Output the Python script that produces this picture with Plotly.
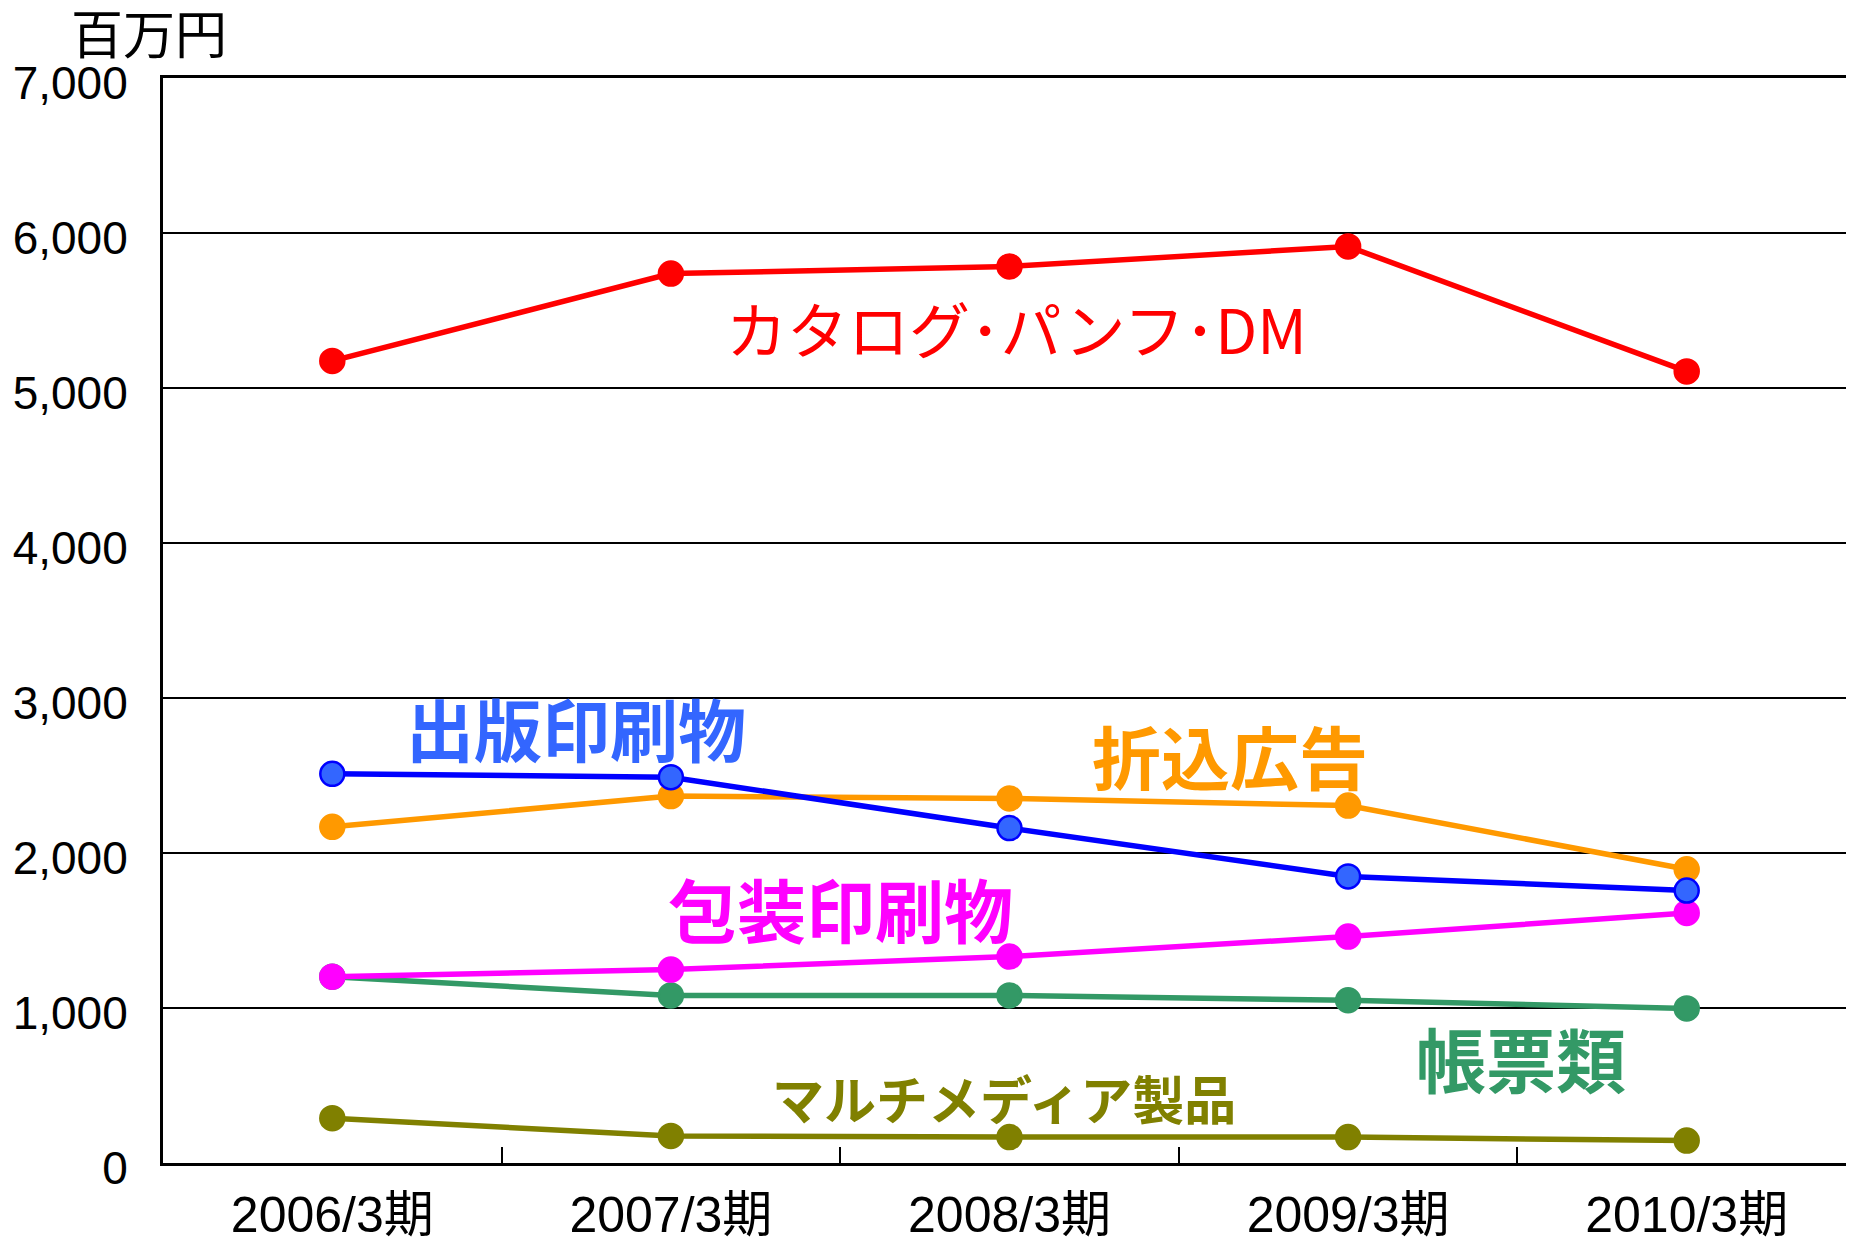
import plotly.graph_objects as go

categories = ["2006/3期", "2007/3期", "2008/3期", "2009/3期", "2010/3期"]
catalog = [5175, 5738, 5784, 5913, 5107]
publishing = [2511, 2489, 2161, 1849, 1758]
inserts = [2169, 2367, 2352, 2306, 1895]
packaging = [1202, 1248, 1332, 1461, 1613]
forms = [1202, 1081, 1081, 1050, 997]
multimedia = [289, 175, 167, 167, 145]
y_ticks = [0, 1000, 2000, 3000, 4000, 5000, 6000, 7000]
y_tick_text = ["0", "1,000", "2,000", "3,000", "4,000", "5,000", "6,000", "7,000"]

series = [
    ("マルチメディア製品", multimedia, "#808000", "#808000", "#808000"),
    ("帳票類", forms, "#339966", "#339966", "#339966"),
    ("包装印刷物", packaging, "#FF00FF", "#FF00FF", "#FF00FF"),
    ("折込広告", inserts, "#FF9900", "#FF9900", "#FF9900"),
    ("出版印刷物", publishing, "#0000FF", "#3366FF", "#0000FF"),
    ("カタログ･パンフ･DM", catalog, "#FF0000", "#FF0000", "#FF0000"),
]

fig = go.Figure()
for name, vals, lc, mc, mlc in series:
    fig.add_trace(go.Scatter(
        x=categories, y=vals, name=name, mode="lines+markers",
        line=dict(color=lc, width=5.5),
        marker=dict(size=24, color=mc, line=dict(color=mlc, width=2.5)),
        showlegend=False,
    ))

jp = "Noto Sans CJK JP"
labels = [
    ("カタログ･パンフ･DM", 0.504, 0.770, "#FF0000", 61, 400),
    ("出版印刷物", 0.244, 0.401, "#3366FF", 68, 700),
    ("折込広告", 0.630, 0.376, "#FF9900", 69, 700),
    ("包装印刷物", 0.400, 0.235, "#FF00FF", 69, 700),
    ("帳票類", 0.802, 0.097, "#339966", 70, 700),
    ("マルチメディア製品", 0.497, 0.060, "#808000", 52, 700),
]
for text, xp, yp, col, size, w in labels:
    fig.add_annotation(text=text, x=xp, y=yp, xref="paper", yref="paper",
                       showarrow=False, xanchor="center", yanchor="middle",
                       font=dict(family=jp, size=size, color=col, weight=w))

fig.add_annotation(text="百万円", x=-0.008, y=1.043, xref="paper", yref="paper",
                   showarrow=False, xanchor="center", yanchor="middle",
                   font=dict(family=jp, size=52, color="black"))

fig.update_layout(
    width=1854, height=1240,
    margin=dict(l=155, r=6, t=70, b=85, autoexpand=False),
    paper_bgcolor="white", plot_bgcolor="white",
    font=dict(family="Liberation Sans, Arial, " + jp, color="black"),
)
fig.update_xaxes(
    type="category", range=[-0.5, 4.5], tickson="boundaries", automargin=False,
    ticks="inside", ticklen=16, tickwidth=2, tickcolor="black",
    showgrid=False, showline=True, linecolor="black", linewidth=3, mirror=True,
    tickfont=dict(size=50, family="Liberation Sans, " + jp),
    ticklabelstandoff=6,
)
fig.update_yaxes(
    range=[0, 7000], tickvals=y_ticks, ticktext=y_tick_text, automargin=False,
    ticks="inside", ticklen=10, tickwidth=2, tickcolor="black",
    showgrid=True, gridcolor="black", gridwidth=2,
    showline=True, linecolor="black", linewidth=3, mirror=True,
    tickfont=dict(size=46), ticklabelstandoff=23, ticklabelshift=5,
    zeroline=False,
)

fig.write_html("out.html")
